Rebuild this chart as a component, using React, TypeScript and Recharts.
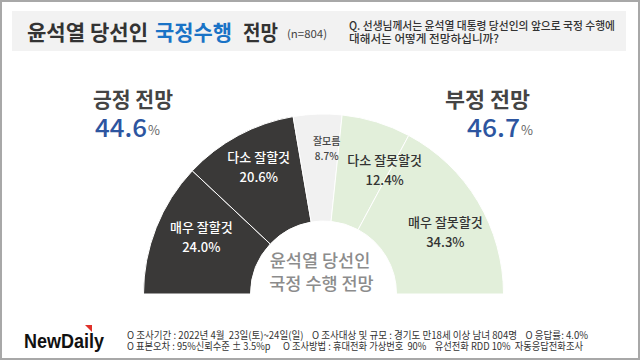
import React from 'react';
import { PieChart, Pie, Cell } from 'recharts';

// ---- data ----
const categories = ['매우 잘할것', '다소 잘할것', '잘모름', '다소 잘못할것', '매우 잘못할것'];
const values = [24.0, 20.6, 8.7, 12.4, 34.3];
const summaryLabels = ['긍정 전망', '부정 전망'];
const summaryValues = [44.6, 46.7];
const titleParts = ['윤석열 당선인', '국정수행', '전망', '(n=804)'];
const questionLines = ['Q. 선생님께서는 윤석열 대통령 당선인의 앞으로 국정 수행에', '대해서는 어떻게 전망하십니까?'];
const centerLines = ['윤석열 당선인', '국정 수행 전망'];
const footerLines = [
  'O 조사기간 : 2022년 4월  23일(토)~24일(일)    O 조사대상 및 규모 : 경기도 만18세 이상 남녀 804명    O 응답률: 4.0%',
  'O 표본오차 : 95%신뢰수준 ± 3.5%p      O 조사방법 : 휴대전화 가상번호  90%    유선전화 RDD 10%  자동응답전화조사',
];

// ---- styles / layout ----
const FONT = '"Noto Sans CJK KR", "Noto Sans", sans-serif';
const SLICE_COLORS = ['#3a3938', '#3a3938', '#f1f1f1', '#e2efda', '#e2efda'];
const LABEL_COLORS = ['#ffffff', '#ffffff', '#444444', '#333333', '#333333'];
const LABEL_SIZES = [13, 13, 10, 13, 13];
const LABEL_RADIUS = [140, 141, 146, 140, 135];
const LABEL_NUDGE: [number, number][] = [[8, -6], [2, -3], [8, 0], [20, 9], [6, 7]];

const chartData = categories.map((name, i) => ({ name, value: values[i] }));

const RAD = Math.PI / 180;

const renderLabel = (props: any) => {
  const { cx, cy, midAngle, index } = props;
  const r = LABEL_RADIUS[index];
  const x = cx + r * Math.cos(-midAngle * RAD) + LABEL_NUDGE[index][0];
  const y = cy + r * Math.sin(-midAngle * RAD) + LABEL_NUDGE[index][1];
  const fs = LABEL_SIZES[index];
  const gap = fs * 0.78;
  return (
    <g>
      <text x={x} y={y - gap} textAnchor="middle" dominantBaseline="central" fill={LABEL_COLORS[index]}
        fontSize={fs} fontFamily={FONT} fontWeight={500}>{categories[index]}</text>
      <text x={x} y={y + gap} textAnchor="middle" dominantBaseline="central" fill={LABEL_COLORS[index]}
        fontSize={fs} fontFamily={FONT} fontWeight={500}>{values[index].toFixed(1)}%</text>
    </g>
  );
};

const pre = { whiteSpace: 'pre' as const };

export default function App() {
  return (
    <div style={{ position: 'absolute', left: 0, top: 0, width: 640, height: 360, background: '#fff', overflow: 'hidden' }}>
      <div style={{ position: 'absolute', left: 0, top: 0 }}>
        <PieChart width={640} height={360} margin={{ top: 0, right: 0, bottom: 0, left: 0 }}>
          <Pie
            data={chartData}
            dataKey="value"
            nameKey="name"
            cx={323.5}
            cy={294}
            innerRadius={73}
            outerRadius={180}
            startAngle={180}
            endAngle={0}
            stroke="#ffffff"
            strokeWidth={1}
            label={renderLabel}
            labelLine={false}
            isAnimationActive={false}
          >
            {chartData.map((d, i) => (
              <Cell key={d.name} fill={SLICE_COLORS[i]} />
            ))}
          </Pie>
        </PieChart>
      </div>
      <svg width={640} height={360} style={{ position: 'absolute', left: 0, top: 0, pointerEvents: 'none' }}>
        {/* frame */}
        <rect x={1} y={1} width={638} height={358} fill="none" stroke="#a8a8a8" strokeWidth={2} />
        {/* header */}
        <rect x={12} y={11} width={614} height={40} fill="#f2f2f2" />
        <g fontFamily={FONT} fontWeight={700} fontSize={21} dominantBaseline="central">
          <text x={27} y={31} fill="#333" textLength={121} lengthAdjust="spacingAndGlyphs">{titleParts[0]}</text>
          <text x={155} y={31} fill="#1a73c6" textLength={77} lengthAdjust="spacingAndGlyphs">{titleParts[1]}</text>
          <text x={243} y={31} fill="#333" textLength={35} lengthAdjust="spacingAndGlyphs">{titleParts[2]}</text>
        </g>
        <text x={287} y={33} fill="#444" fontFamily={FONT} fontSize={11} dominantBaseline="central"
          textLength={40} lengthAdjust="spacingAndGlyphs">{titleParts[3]}</text>
        <text x={349} y={25} fill="#333" fontFamily={FONT} fontSize={11} fontWeight={500} dominantBaseline="central"
          textLength={266} lengthAdjust="spacingAndGlyphs">{questionLines[0]}</text>
        <text x={349} y={38} fill="#333" fontFamily={FONT} fontSize={11} fontWeight={500} dominantBaseline="central"
          textLength={150} lengthAdjust="spacingAndGlyphs">{questionLines[1]}</text>

        {/* summaries */}
        <text x={93} y={97.5} fill="#444" fontFamily={FONT} fontSize={21} fontWeight={700} dominantBaseline="central"
          textLength={80} lengthAdjust="spacingAndGlyphs">{summaryLabels[0]}</text>
        <text x={95} y={126} fill="#2d55a0" fontFamily={FONT} fontSize={25} fontWeight={500} dominantBaseline="central"
          textLength={52} lengthAdjust="spacingAndGlyphs">{summaryValues[0].toFixed(1)}</text>
        <text x={148} y={129} fill="#666" fontFamily={FONT} fontSize={13} dominantBaseline="central">%</text>

        <text x={445} y={97.5} fill="#444" fontFamily={FONT} fontSize={21} fontWeight={700} dominantBaseline="central"
          textLength={85} lengthAdjust="spacingAndGlyphs">{summaryLabels[1]}</text>
        <text x={467} y={126} fill="#2d55a0" fontFamily={FONT} fontSize={25} fontWeight={500} dominantBaseline="central"
          textLength={53} lengthAdjust="spacingAndGlyphs">{summaryValues[1].toFixed(1)}</text>
        <text x={521} y={129} fill="#666" fontFamily={FONT} fontSize={13} dominantBaseline="central">%</text>

        {/* center */}
        <text x={320} y={259} fill="#8c8c8c" fontFamily={FONT} fontSize={17.5} fontWeight={500} textAnchor="middle"
          dominantBaseline="central">{centerLines[0]}</text>
        <text x={321.5} y={282} fill="#8c8c8c" fontFamily={FONT} fontSize={17.5} fontWeight={500} textAnchor="middle"
          dominantBaseline="central">{centerLines[1]}</text>

        {/* footer */}
        <text x={24} y={340} fill="#111" fontFamily='"Liberation Sans", Arial, sans-serif' fontSize={21} fontWeight={700}
          dominantBaseline="central" textLength={80} lengthAdjust="spacingAndGlyphs">NewDaily</text>
        <polygon points="85,325 92,325 92,332" fill="#e0312a" />
        <text x={127} y={334} fill="#333" fontFamily={FONT} fontSize={10} dominantBaseline="central"
          textLength={461} lengthAdjust="spacingAndGlyphs" xmlSpace="preserve" style={pre}>{footerLines[0]}</text>
        <text x={127} y={345} fill="#333" fontFamily={FONT} fontSize={10} dominantBaseline="central"
          textLength={456} lengthAdjust="spacingAndGlyphs" xmlSpace="preserve" style={pre}>{footerLines[1]}</text>
      </svg>
    </div>
  );
}
